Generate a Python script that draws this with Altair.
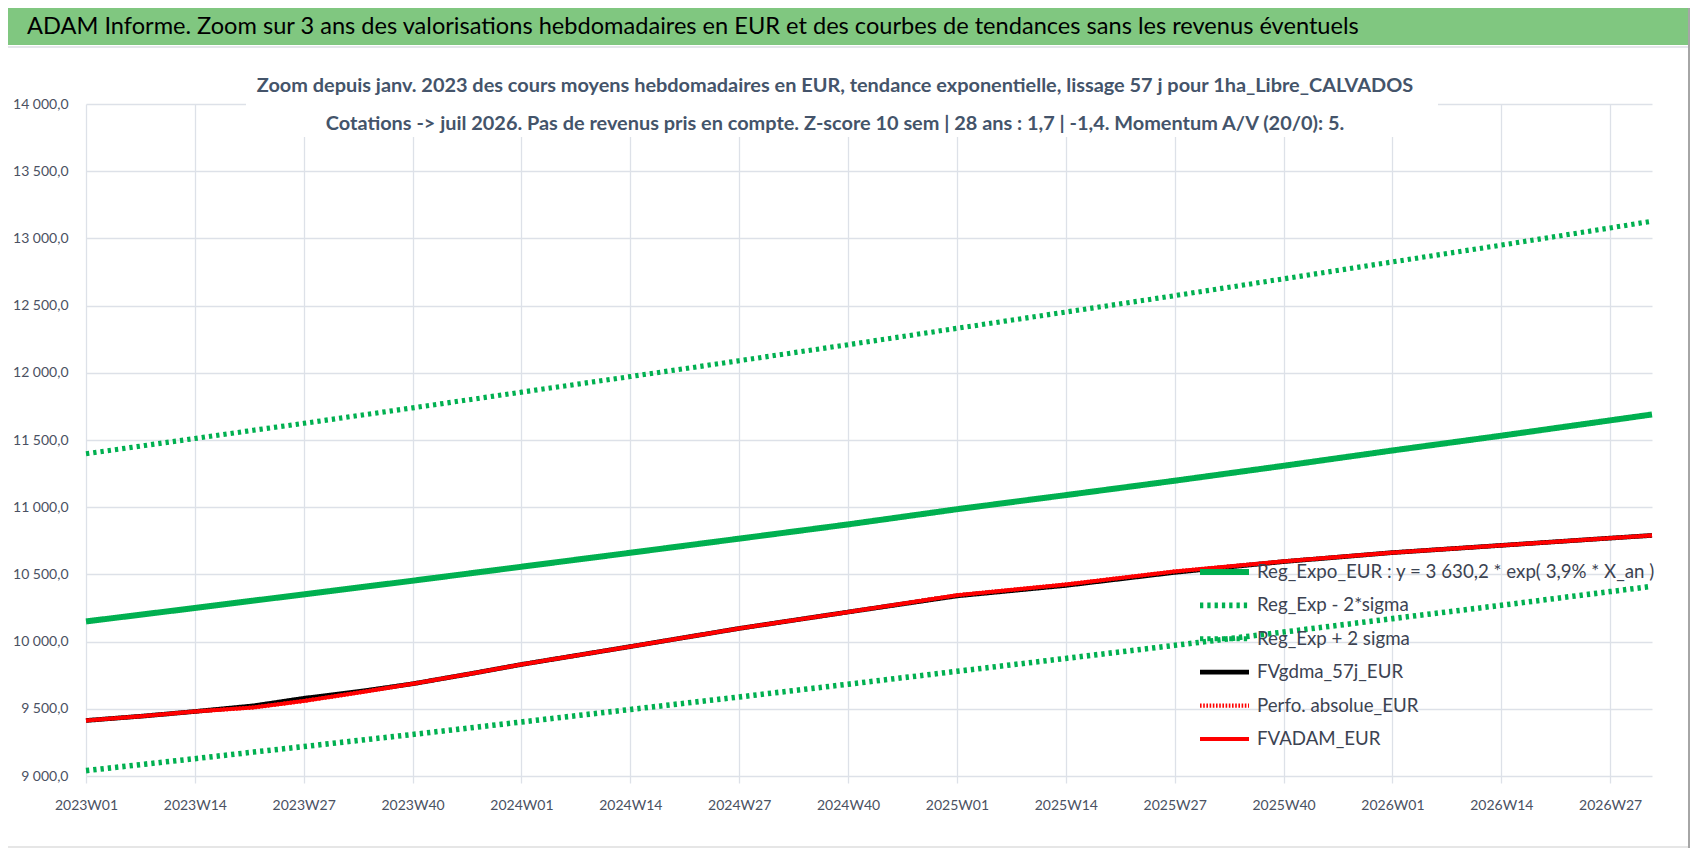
import altair as alt
import pandas as pd

# ---- categories ----
years_weeks = [(2023, 52), (2024, 52), (2025, 52), (2026, 32)]
all_weeks = [f"{y}W{w:02d}" for y, n in years_weeks for w in range(1, n + 1)]

tick_weeks = ["2023W01", "2023W14", "2023W27", "2023W40",
              "2024W01", "2024W14", "2024W27", "2024W40",
              "2025W01", "2025W14", "2025W27", "2025W40",
              "2026W01", "2026W14", "2026W27"]
y_ticks = [9000, 9500, 10000, 10500, 11000, 11500, 12000, 12500, 13000, 13500, 14000]

sample_weeks = ["2023W01", "2023W08", "2023W14", "2023W21", "2023W27", "2023W34",
                "2023W40", "2023W47", "2024W01", "2024W14", "2024W27", "2024W40",
                "2025W01", "2025W14", "2025W27", "2025W40", "2026W01", "2026W14",
                "2026W27", "2026W32"]

# ---- series values ----
reg_expo = [10150, 10204, 10250, 10305, 10351, 10406, 10453, 10509, 10557, 10661,
            10766, 10872, 10985, 11090, 11197, 11308, 11422, 11532, 11646, 11690]
reg_minus = [9040, 9088, 9129, 9178, 9219, 9268, 9309, 9359, 9402, 9495,
             9588, 9683, 9779, 9875, 9972, 10071, 10171, 10270, 10372, 10411]
reg_plus = [11398, 11459, 11511, 11573, 11624, 11686, 11739, 11802, 11856, 11972,
            12090, 12209, 12331, 12452, 12574, 12699, 12825, 12950, 13078, 13128]
fvgdma = [9413, 9447, 9480, 9522, 9578, 9632, 9686, 9762, 9830, 9963,
          10098, 10220, 10340, 10418, 10515, 10595, 10662, 10716, 10770, 10790]
perfo = [9413, 9447, 9480, 9510, 9558, 9625, 9686, 9762, 9830, 9963,
         10098, 10220, 10345, 10425, 10522, 10597, 10662, 10716, 10770, 10790]
fvadam = [9413, 9447, 9480, 9510, 9558, 9625, 9686, 9762, 9830, 9963,
          10098, 10220, 10345, 10425, 10522, 10597, 10662, 10716, 10770, 10790]

series_names = ["Reg_Expo_EUR : y = 3 630,2 * exp( 3,9% *  X_an )",
                "Reg_Exp - 2*sigma",
                "Reg_Exp + 2 sigma",
                "FVgdma_57j_EUR",
                "Perfo. absolue_EUR",
                "FVADAM_EUR"]
series_values = [reg_expo, reg_minus, reg_plus, fvgdma, perfo, fvadam]
series_colors = ["#00B050", "#00B050", "#00B050", "#000000", "#FF0000", "#FF0000"]
series_dash = [[1, 0], [3.3, 4.0], [3.3, 4.0], [1, 0], [1.6, 1.6], [1, 0]]
series_width = [6, 3.8, 3.8, 4, 2, 6]

title_text = ("ADAM Informe. Zoom sur 3 ans des valorisations hebdomadaires en EUR "
              "et des courbes de tendances sans les revenus éventuels")
subtitle_1 = ("Zoom depuis janv. 2023 des cours moyens hebdomadaires en EUR, tendance "
              "exponentielle, lissage 57 j pour 1ha_Libre_CALVADOS")
subtitle_2 = ("Cotations -> juil 2026. Pas de revenus pris en compte. Z-score 10 sem | "
              "28 ans : 1,7 | -1,4. Momentum A/V (20/0): 5.")

rows = []
for name, vals in zip(series_names, series_values):
    for wk, v in zip(sample_weeks, vals):
        rows.append({"week": wk, "value": v, "series": name})
df = pd.DataFrame(rows)

FONT = "Lato"
LABEL_COLOR = "#4A5162"
GRID = "#DDE1E8"

legend = alt.Legend(
    title=None, orient="none", legendX=1111, legendY=458,
    symbolType="stroke", symbolSize=2401, clipHeight=20,
    labelFont=FONT, labelFontSize=18.7,
    labelColor="#3C4352", labelLimit=800, labelOffset=5, rowPadding=13.4,
    padding=0,
)

x_enc = alt.X("week:O",
              scale=alt.Scale(type="point", domain=all_weeks, padding=0),
              axis=alt.Axis(values=tick_weeks, labelAngle=0, grid=True, gridColor=GRID,
                            gridWidth=1.3, tickColor=GRID, tickSize=7, tickWidth=1.3,
                            domain=False, labelFont=FONT, labelFontSize=14,
                            labelColor=LABEL_COLOR, labelPadding=15, title=None))
y_enc = alt.Y("value:Q",
              scale=alt.Scale(domain=[9000, 14000], nice=False, zero=False),
              axis=alt.Axis(values=y_ticks, grid=True, gridColor=GRID, gridWidth=1.3,
                            ticks=False, domain=False, labelFont=FONT, labelFontSize=14,
                            labelColor=LABEL_COLOR, labelPadding=18, title=None,
                            labelExpr="replace(replace(format(datum.value, ',.1f'), ',', ' '), '.', ',')"))
color_enc = alt.Color("series:N", scale=alt.Scale(domain=series_names, range=series_colors),
                      legend=legend)
dash_enc = alt.StrokeDash("series:N", scale=alt.Scale(domain=series_names, range=series_dash),
                          legend=legend)
width_enc = alt.StrokeWidth("series:N", scale=alt.Scale(domain=series_names, range=series_width),
                            legend=legend)

base = alt.Chart(df).mark_line(strokeCap="butt", strokeJoin="round").encode(
    x=x_enc, y=y_enc, color=color_enc, strokeDash=dash_enc, strokeWidth=width_enc
)
line_layers = [base.transform_filter(alt.datum.series == n) for n in series_names]

one = alt.Data(values=[{"k": 0}])

band = alt.Chart(one).mark_rect(color="#80C780").encode(
    x=alt.value(-78), x2=alt.value(1604), y=alt.value(-96), y2=alt.value(-59))
band_line = alt.Chart(one).mark_rule(color="#E4E6EA", strokeWidth=2).encode(
    x=alt.value(-78), x2=alt.value(1604), y=alt.value(-57))
sub_bg = alt.Chart(one).mark_rect(color="white").encode(
    x=alt.value(160), x2=alt.value(1352), y=alt.value(-44), y2=alt.value(33))
bottom_line = alt.Chart(one).mark_rule(color="#E6E6E6", strokeWidth=2).encode(
    x=alt.value(-78), x2=alt.value(1603), y=alt.value(743))
right_border = alt.Chart(one).mark_rule(color="#A6A6A6", strokeWidth=2).encode(
    x=alt.value(1603), y=alt.value(-96), y2=alt.value(744))

title_mark = alt.Chart(one).mark_text(
    text=title_text, align="left", baseline="alphabetic", font=FONT, fontSize=23.6,
    color="#000000").encode(x=alt.value(-59), y=alt.value(-70))
sub1_mark = alt.Chart(one).mark_text(
    text=subtitle_1, align="center", baseline="alphabetic", font=FONT, fontSize=19.9,
    fontWeight="bold", color="#44546A").encode(x=alt.value(749), y=alt.value(-12))
sub2_mark = alt.Chart(one).mark_text(
    text=subtitle_2, align="center", baseline="alphabetic", font=FONT, fontSize=19.9,
    fontWeight="bold", color="#44546A").encode(x=alt.value(749), y=alt.value(26))

chart = alt.layer(
    band, band_line, sub_bg, *line_layers, title_mark, sub1_mark, sub2_mark,
    bottom_line, right_border
).properties(
    width=1566, height=672,
    padding={"left": 78, "top": 96, "right": 38, "bottom": 72},
    autosize=alt.AutoSizeParams(type="none"),
).configure_view(strokeWidth=0)

chart.save("out.html", embed_options={"renderer": "svg", "actions": False})
